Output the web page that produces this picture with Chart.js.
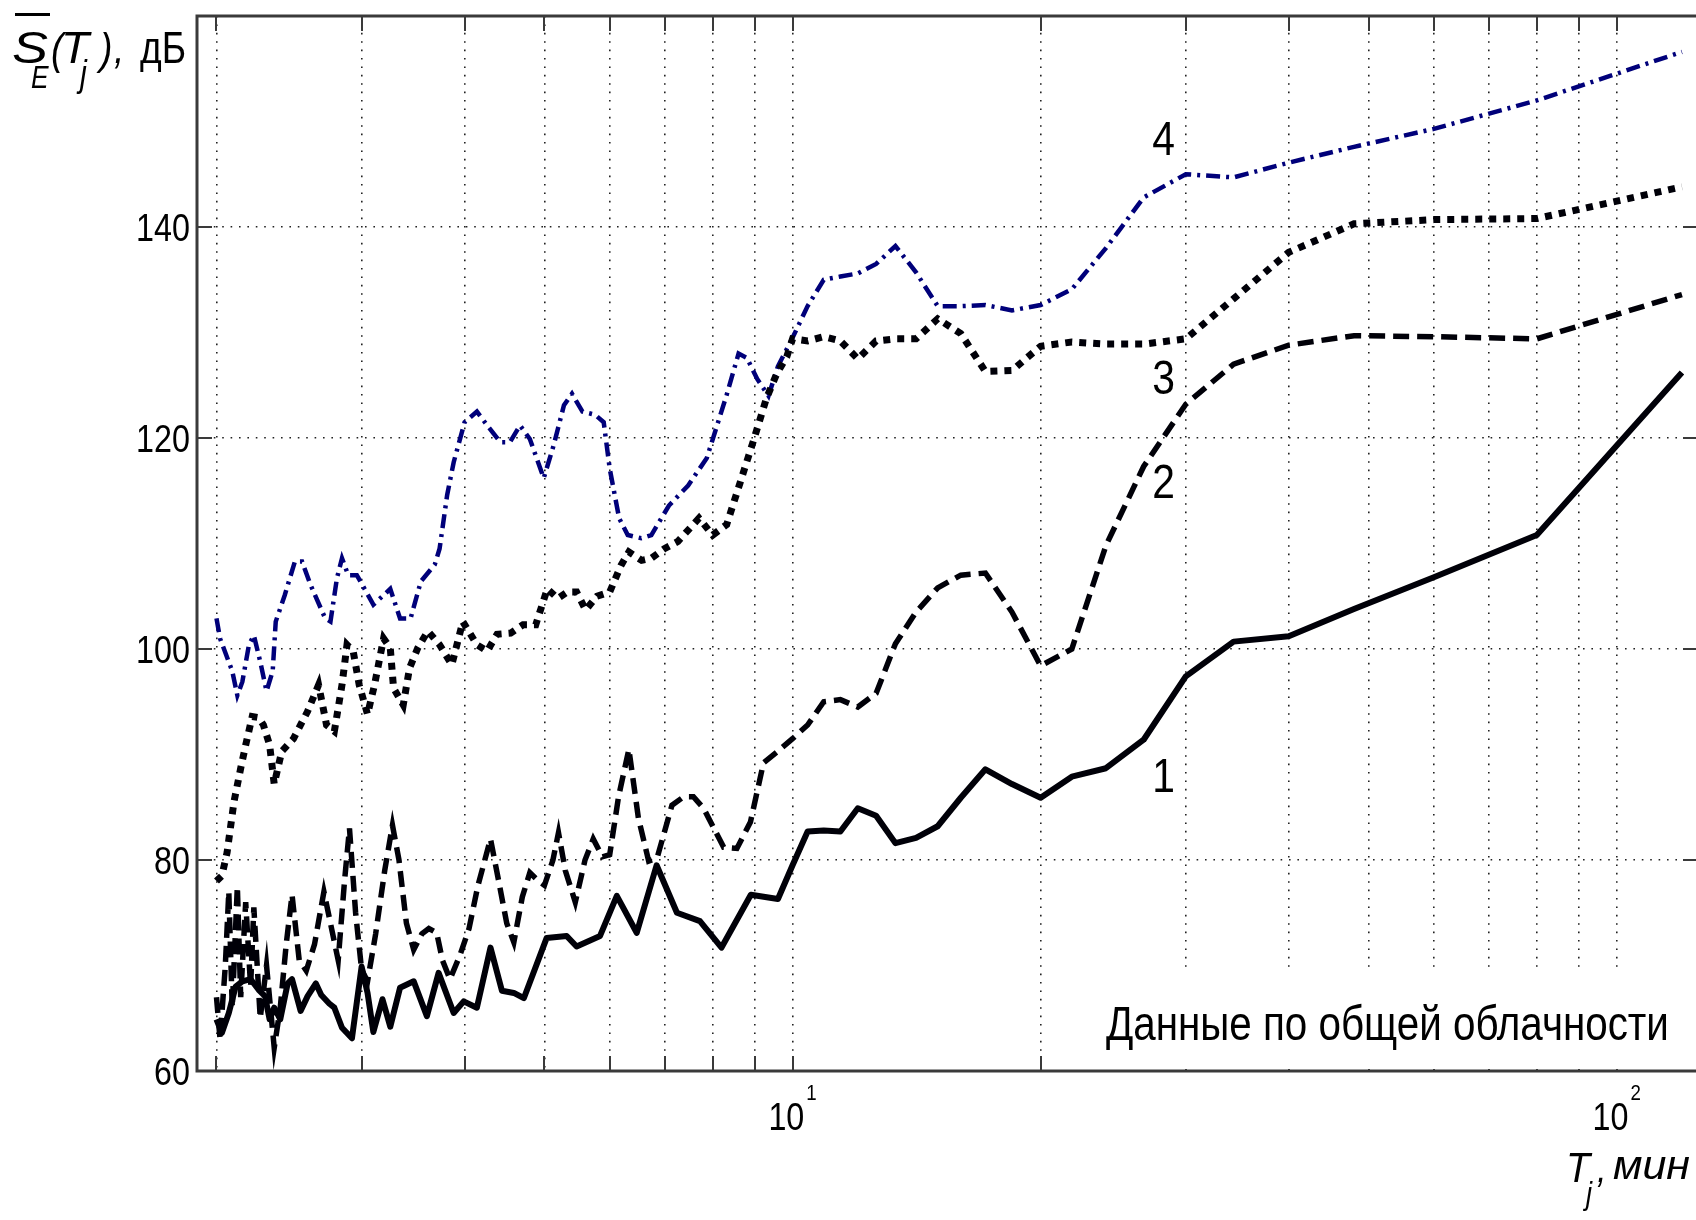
<!DOCTYPE html>
<html lang="ru">
<head>
<meta charset="utf-8">
<script src="https://cdn.jsdelivr.net/npm/chart.js@4.4.1/dist/chart.umd.min.js"></script>
<style>
html, body { margin: 0; padding: 0; background: #fff; overflow: hidden; }
#wrap { position: relative; width: 1700px; height: 1220px; }
</style>
</head>
<body>
<div id="wrap"><canvas id="grafico"></canvas></div>
<script>
// ===== DATOS (T_j en min, S_E en dB) =====
// curva 1 - linea continua
const T1 = [2.0, 2.03, 2.07, 2.11, 2.15, 2.20, 2.25, 2.29, 2.32, 2.35, 2.39, 2.44, 2.47, 2.53, 2.58, 2.64, 2.68, 2.74, 2.78, 2.84, 2.92, 3.0, 3.05, 3.1, 3.18, 3.25, 3.34, 3.47, 3.6, 3.72, 3.88, 3.99, 4.14, 4.3, 4.44, 4.59, 4.72, 5.03, 5.32, 5.47, 5.84, 6.12, 6.47, 6.84, 7.24, 7.72, 8.2, 8.9, 9.6, 10, 10.43, 10.91, 11.43, 12, 12.63, 13.33, 14.12, 15, 16, 17.14, 18.46, 20, 21.82, 24, 26.67, 30, 34.29, 40, 48, 60, 80, 120]
const S1 = [64.9, 63.6, 65.5, 68.0, 68.5, 68.7, 67.7, 67.1, 64.9, 66.0, 64.9, 68.3, 68.7, 65.7, 67.1, 68.3, 67.2, 66.4, 66.0, 64.1, 63.1, 69.9, 67.4, 63.7, 66.8, 64.2, 67.9, 68.5, 65.2, 69.3, 65.5, 66.6, 66.0, 71.7, 67.6, 67.4, 66.9, 72.6, 72.8, 71.8, 72.8, 76.6, 73.1, 79.5, 75.0, 74.2, 71.7, 76.7, 76.3, 79.5, 82.7, 82.8, 82.7, 84.9, 84.2, 81.6, 82.1, 83.2, 85.9, 88.6, 87.2, 85.9, 87.9, 88.7, 91.4, 97.4, 100.7, 101.2, 103.8, 106.8, 110.8, 126.2]

// curva 2 - discontinua
const T2 = [2.0, 2.02, 2.05, 2.07, 2.09, 2.12, 2.14, 2.17, 2.2, 2.22, 2.26, 2.3, 2.35, 2.39, 2.43, 2.47, 2.52, 2.57, 2.63, 2.7, 2.75, 2.81, 2.86, 2.9, 2.95, 3.0, 3.05, 3.12, 3.2, 3.27, 3.33, 3.4, 3.47, 3.55, 3.62, 3.7, 3.76, 3.84, 3.95, 4.05, 4.15, 4.3, 4.4, 4.5, 4.59, 4.7, 4.8, 4.92, 5.0, 5.12, 5.2, 5.3, 5.45, 5.6, 5.73, 5.88, 6.0, 6.15, 6.33, 6.5, 6.69, 6.85, 7.14, 7.38, 7.58, 7.8, 8.25, 8.56, 8.89, 9.22, 9.66, 10, 10.43, 10.91, 11.43, 12, 12.63, 13.33, 14.12, 15, 16, 17.14, 18.46, 20, 21.82, 24, 26.67, 30, 34.29, 40, 48, 60, 80, 120]
const S2 = [67, 63, 70, 77, 66, 77.5, 67, 76, 68, 75.5, 65, 70, 62.2, 66, 72, 76.7, 70.5, 69.5, 72, 77, 74, 70.5, 78, 83.0, 75, 69.6, 68.5, 73, 79, 83.3, 80, 74, 71.5, 73, 73.5, 73.1, 70.5, 68.7, 71, 73.5, 77.5, 82.0, 78, 74, 72.2, 76.5, 78.8, 78, 77.6, 80, 82.6, 79, 76.0, 80, 82.0, 80.3, 80.5, 86, 90.5, 84, 79.9, 80.2, 85.2, 86.0, 86.0, 84.9, 81.2, 81.1, 83.6, 89.2, 90.5, 91.5, 92.8, 95.0, 95.2, 94.5, 95.8, 100.5, 103.5, 105.8, 107.0, 107.2, 103.5, 98.4, 100.0, 109.8, 117.3, 123.2, 127.0, 128.8, 129.7, 129.6, 129.4, 133.6]

// curva 3 - punteada
const T3 = [2.0, 2.03, 2.06, 2.10, 2.14, 2.17, 2.21, 2.25, 2.28, 2.32, 2.35, 2.40, 2.48, 2.58, 2.66, 2.72, 2.78, 2.84, 2.88, 2.93, 2.98, 3.05, 3.11, 3.19, 3.25, 3.28, 3.37, 3.43, 3.51, 3.61, 3.73, 3.86, 3.98, 4.14, 4.26, 4.38, 4.55, 4.71, 4.88, 5.04, 5.19, 5.33, 5.47, 5.61, 5.79, 6.0, 6.19, 6.33, 6.56, 6.74, 6.99, 7.26, 7.70, 8.0, 8.32, 8.64, 8.97, 9.30, 9.57, 9.84, 10, 10.43, 10.91, 11.43, 12, 12.63, 13.33, 14.12, 15, 16, 17.14, 18.46, 20, 21.82, 24, 26.67, 30, 34.29, 40, 48, 60, 80, 120]
const S3 = [78, 78.5, 80.7, 85.5, 88.7, 90.9, 93.6, 93.5, 92.8, 90.9, 87.2, 90.3, 91.5, 94.1, 96.6, 92.8, 92.2, 96.6, 100.4, 99.8, 96.6, 93.8, 96.6, 101.0, 100.1, 96.3, 94.7, 98.2, 100.1, 101.7, 100.4, 98.5, 102.6, 100.4, 99.8, 101.4, 101.5, 102.3, 102.3, 105.7, 104.8, 105.4, 105.4, 103.7, 105.0, 105.4, 107.9, 109.2, 108.4, 108.6, 109.5, 110.2, 112.4, 110.8, 111.8, 115.8, 119.8, 123.8, 126.1, 127.7, 129.4, 129.2, 129.6, 129.2, 127.5, 129.2, 129.4, 129.4, 131.3, 129.9, 126.3, 126.4, 128.7, 129.1, 128.9, 128.9, 129.4, 133.2, 137.6, 140.3, 140.7, 140.8, 143.8]

// curva 4 - raya-punto azul
const T4 = [2.0, 2.02, 2.09, 2.12, 2.15, 2.19, 2.22, 2.26, 2.30, 2.34, 2.36, 2.42, 2.49, 2.54, 2.60, 2.71, 2.75, 2.80, 2.84, 2.89, 2.96, 3.04, 3.10, 3.19, 3.25, 3.34, 3.44, 3.54, 3.68, 3.73, 3.81, 3.88, 4.0, 4.14, 4.26, 4.42, 4.54, 4.67, 4.80, 4.99, 5.13, 5.28, 5.40, 5.56, 5.76, 5.90, 6.0, 6.16, 6.31, 6.55, 6.74, 7.08, 7.47, 7.87, 8.32, 8.6, 8.8, 9.06, 9.35, 9.6, 10, 10.43, 10.91, 11.43, 12, 12.63, 13.33, 14.12, 15, 16, 17.14, 18.46, 20, 21.82, 24, 26.67, 30, 34.29, 40, 48, 60, 80, 120]
const S4 = [102.9, 101.0, 97.9, 95.6, 96.9, 100.4, 101.3, 98.8, 96.0, 97.9, 102.6, 105.1, 108.3, 108.3, 106.1, 102.9, 102.6, 106.7, 108.6, 107.0, 107.0, 105.4, 104.2, 105.1, 105.7, 102.9, 102.9, 106.4, 108.0, 109.5, 114.6, 117.7, 121.5, 122.5, 121.2, 119.6, 119.6, 121.2, 119.9, 116.2, 119.3, 123.1, 124.2, 122.5, 122.2, 121.5, 117.1, 112.4, 110.8, 110.5, 110.8, 113.6, 115.5, 118.1, 124.1, 128.0, 127.6, 125.6, 124.0, 126.8, 129.5, 132.5, 135.0, 135.3, 135.6, 136.5, 138.2, 135.7, 132.5, 132.5, 132.6, 132.1, 132.6, 134.1, 138.0, 142.8, 145.0, 144.7, 146.1, 147.6, 149.3, 152.0, 156.6]

// ejes
const X_MIN = 1.894
const X_MAX = 125.5
const Y_MIN = 60
const Y_MAX = 160
const X_GRID = [2, 3, 4, 5, 6, 7, 8, 9, 10, 20, 30, 40, 50, 60, 70, 80, 90, 100]
const X_LABELS = [10, 100]
const Y_TICKS = [60, 80, 100, 120, 140]

// textos
const CURVE_NAMES = ["1", "2", "3", "4"]
const CURVE_NAME_Y = [86.4, 114.3, 124.2, 146.8]
const CURVE_NAME_X = 28.2
const NOTE = "Данные по общей облачности"
const FONT = "'Liberation Sans', Arial, sans-serif"

function puntos(t, s) {
    return t.map((v, i) => ({ x: v, y: s[i] }))
}

function texto(ctx, s, x, y, size, op) {
    op = op || {}
    ctx.save()
    ctx.font = (op.italic ? "italic " : "") + size + "px " + FONT
    ctx.fillStyle = "#000"
    ctx.textBaseline = "alphabetic"
    const w = ctx.measureText(s).width
    const k = op.ancho ? op.ancho / w : 0.85
    let x0 = x
    if (op.align === "right") x0 = x - w * k
    if (op.align === "center") x0 = x - w * k / 2
    ctx.translate(x0, y)
    ctx.scale(k, 1)
    ctx.fillText(s, 0, 0)
    ctx.restore()
    return w * k
}

const marco = {
    id: "marco",
    beforeDraw(chart) {
        const ctx = chart.ctx
        ctx.save()
        ctx.fillStyle = "#fff"
        ctx.fillRect(0, 0, chart.width, chart.height)
        ctx.restore()
    },
    afterDatasetsDraw(chart) {
        const ctx = chart.ctx
        const a = chart.chartArea
        const sx = chart.scales.x
        const sy = chart.scales.y
        ctx.save()

        // marcas interiores
        ctx.strokeStyle = "#3a3a3a"
        ctx.lineWidth = 2
        ctx.beginPath()
        X_GRID.forEach(v => {
            const px = Math.round(sx.getPixelForValue(v))
            ctx.moveTo(px, a.bottom); ctx.lineTo(px, a.bottom - 15)
            ctx.moveTo(px, a.top); ctx.lineTo(px, a.top + 15)
        })
        Y_TICKS.forEach(v => {
            const py = Math.round(sy.getPixelForValue(v))
            ctx.moveTo(a.left, py); ctx.lineTo(a.left + 15, py)
            ctx.moveTo(a.right, py); ctx.lineTo(a.right - 15, py)
        })
        ctx.stroke()

        // recuadro blanco con la nota
        const bx = sx.getPixelForValue(23.3)
        const by = sy.getPixelForValue(69.4)
        ctx.fillStyle = "#fff"
        ctx.fillRect(bx, by, a.right - bx, a.bottom - 2 - by)
        texto(ctx, NOTE, sx.getPixelForValue(24.0), sy.getPixelForValue(62.9), 48, { ancho: 563 })

        // marco
        ctx.strokeStyle = "#3a3a3a"
        ctx.lineWidth = 3
        ctx.strokeRect(a.left, a.top, a.right - a.left, a.bottom - a.top)

        // etiquetas eje y
        Y_TICKS.forEach(v => {
            texto(ctx, String(v), a.left - 7, sy.getPixelForValue(v) + 13.5, 38, { align: "right" })
        })

        // etiquetas eje x: 10^n
        X_LABELS.forEach(v => {
            const px = sx.getPixelForValue(v)
            const exp = String(Math.round(Math.log10(v)))
            ctx.font = "38px " + FONT
            const w10 = ctx.measureText("10").width * 0.85
            ctx.font = "22px " + FONT
            const we = ctx.measureText(exp).width * 0.85
            const x0 = px - (w10 + we + 2) / 2
            texto(ctx, "10", x0, a.bottom + 59, 38)
            texto(ctx, exp, x0 + w10 + 2, a.bottom + 29, 22)
        })

        // numeros de curva
        CURVE_NAMES.forEach((n, i) => {
            texto(ctx, n, sx.getPixelForValue(CURVE_NAME_X), sy.getPixelForValue(CURVE_NAME_Y[i]), 48, { align: "center" })
        })

        // titulo eje y: S_E(T_j), дБ con barra
        ctx.strokeStyle = "#000"
        ctx.lineWidth = 3
        ctx.beginPath()
        ctx.moveTo(15, 14.5); ctx.lineTo(50, 14.5)
        ctx.stroke()
        texto(ctx, "S", 12, 63, 44, { italic: true, ancho: 36 })
        texto(ctx, "E", 31, 88, 31, { italic: true })
        texto(ctx, "(", 51, 64, 44, { italic: true })
        texto(ctx, "T", 61, 63, 44, { italic: true, ancho: 28 })
        texto(ctx, "j", 80, 86, 36, { italic: true })
        texto(ctx, ")", 100, 64, 44, { italic: true })
        texto(ctx, ",", 114, 63, 44, { italic: true })
        texto(ctx, "дБ", 140, 63, 44, { ancho: 46 })

        // titulo eje x: T_j, мин
        texto(ctx, "T", 1566, 1182, 42, { italic: true, ancho: 24 })
        texto(ctx, "j", 1586, 1204, 32, { italic: true })
        texto(ctx, ",", 1597, 1182, 40, { italic: true })
        texto(ctx, "мин", 1613, 1179, 40, { italic: true, ancho: 77 })

        ctx.restore()
    }
}

const ctxG = document.getElementById("grafico").getContext("2d")

new Chart(ctxG, {
    type: "line",
    data: {
        datasets: [
            { label: "1", data: puntos(T1, S1), borderColor: "#000008", borderWidth: 6, borderJoinStyle: "round" },
            { label: "2", data: puntos(T2, S2), borderColor: "#000008", borderWidth: 5.5, borderDash: [16, 8] },
            { label: "3", data: puntos(T3, S3), borderColor: "#000008", borderWidth: 7, borderDash: [7, 7] },
            { label: "4", data: puntos(T4, S4), borderColor: "#00007a", borderWidth: 4.5, borderDash: [14, 6, 3, 6] }
        ]
    },
    options: {
        responsive: true,
        maintainAspectRatio: false,
        devicePixelRatio: 1,
        animation: false,
        layout: { padding: { left: 197, top: 16, right: 2, bottom: 149 } },
        elements: {
            point: { radius: 0, hoverRadius: 0 },
            line: { tension: 0, fill: false }
        },
        plugins: {
            legend: { display: false },
            tooltip: { enabled: false }
        },
        scales: {
            x: {
                type: "logarithmic",
                min: X_MIN,
                max: X_MAX,
                afterBuildTicks: s => { s.ticks = X_GRID.map(v => ({ value: v })) },
                afterFit: s => { s.height = 0 },
                ticks: { display: false },
                grid: { color: "#222", lineWidth: 1.6, drawTicks: false },
                border: { display: false, dash: [1.6, 6.8] }
            },
            y: {
                type: "linear",
                min: Y_MIN,
                max: Y_MAX,
                afterBuildTicks: s => { s.ticks = Y_TICKS.map(v => ({ value: v })) },
                afterFit: s => { s.width = 0 },
                ticks: { display: false },
                grid: { color: "#222", lineWidth: 1.6, drawTicks: false },
                border: { display: false, dash: [1.6, 6.8] }
            }
        }
    },
    plugins: [marco]
})
</script>
</body>
</html>
